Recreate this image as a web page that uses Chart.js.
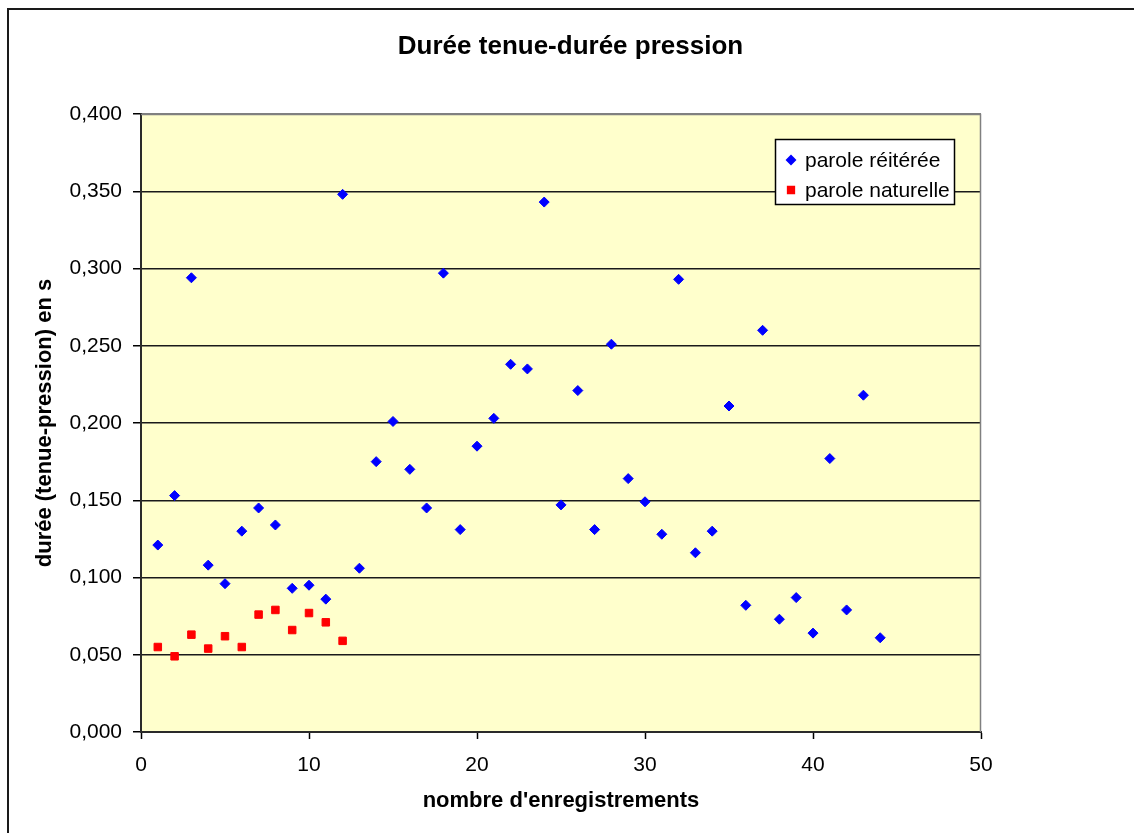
<!DOCTYPE html>
<html>
<head>
<meta charset="utf-8">
<script src="https://cdn.jsdelivr.net/npm/chart.js@4/dist/chart.umd.min.js"></script>
<style>
  html, body { margin: 0; padding: 0; background: #ffffff; }
  canvas { display: block; }
</style>
</head>
<body>
<canvas id="c" width="1134" height="833"></canvas>
<script>
const chartTitle = "Durée tenue-durée pression";
const xAxisTitle = "nombre d'enregistrements";
const yAxisTitle = "durée (tenue-pression) en s";
const seriesNames = ["parole réitérée", "parole naturelle"];

const reitereeX = [1,2,3,4,5,6,7,8,9,10,11,12,13,14,15,16,17,18,19,20,21,22,
                   23,24,25,26,27,28,29,30,31,32,33,34,35,36,37,38,39,40,41,42,43,44];
const reitereeY = [0.121,0.153,0.294,0.108,0.096,0.130,0.145,0.134,0.093,0.095,0.086,0.348,
                   0.106,0.175,0.201,0.170,0.145,0.297,0.131,0.185,0.203,0.238,0.235,0.343,
                   0.147,0.221,0.131,0.251,0.164,0.149,0.128,0.293,0.116,0.130,0.211,0.082,
                   0.260,0.073,0.087,0.064,0.177,0.079,0.218,0.061];

const naturelleX = [1,2,3,4,5,6,7,8,9,10,11,12];
const naturelleY = [0.055,0.049,0.063,0.054,0.062,0.055,0.076,0.079,0.066,0.077,0.071,0.059];

const xTickValues = [0,10,20,30,40,50];
const yTickLabels = ["0,000","0,050","0,100","0,150","0,200","0,250","0,300","0,350","0,400"];

Chart.defaults.font.family = "'Liberation Sans', Arial, sans-serif";
Chart.defaults.color = "#000000";

const toPoints = (xs, ys) => xs.map((x, i) => ({ x: x, y: ys[i] }));

const plotBg = {
  id: 'plotBg',
  beforeDraw(chart) {
    const { ctx, chartArea: a } = chart;
    ctx.save();
    ctx.fillStyle = '#FFFFCC';
    ctx.fillRect(a.left, a.top, a.right - a.left, a.bottom - a.top);
    ctx.restore();
  },
  beforeDatasetsDraw(chart) {
    const { ctx, chartArea: a } = chart;
    ctx.save();
    ctx.strokeStyle = '#808080';
    ctx.lineWidth = 1.5;
    ctx.beginPath();
    ctx.moveTo(a.left, a.top + 0.5);
    ctx.lineTo(a.right - 0.5, a.top + 0.5);
    ctx.lineTo(a.right - 0.5, a.bottom);
    ctx.stroke();
    ctx.restore();
  }
};

const boxLegend = {
  id: 'boxLegend',
  afterDatasetsDraw(chart) {
    const { ctx } = chart;
    const left = 775, top = 139, width = 180, height = 66;
    ctx.save();
    ctx.fillStyle = '#ffffff';
    ctx.fillRect(left, top, width, height);
    ctx.strokeStyle = '#000000';
    ctx.lineWidth = 1.5;
    ctx.strokeRect(left + 0.5, top + 0.5, width - 1, height - 1);
    ctx.font = "21px 'Liberation Sans', Arial, sans-serif";
    ctx.textBaseline = 'middle';
    ctx.textAlign = 'left';
    const rows = [160, 190];
    chart.data.datasets.forEach((ds, i) => {
      const y = rows[i];
      ctx.fillStyle = ds.backgroundColor;
      ctx.strokeStyle = ds.borderColor;
      Chart.helpers.drawPoint(ctx, {
        pointStyle: ds.pointStyle,
        radius: ds.pointStyle === 'rect' ? 4.8 : 4.4,
        borderWidth: 1,
        rotation: 0
      }, 791, y);
      ctx.fillStyle = '#000000';
      ctx.fillText(ds.label, 805, y + 1);
    });
    ctx.restore();
  }
};

const outerBorder = {
  id: 'outerBorder',
  afterDraw(chart) {
    const { ctx } = chart;
    ctx.save();
    ctx.strokeStyle = '#1a1a1a';
    ctx.lineWidth = 2;
    ctx.beginPath();
    ctx.moveTo(8, 833);
    ctx.lineTo(8, 9);
    ctx.lineTo(1134, 9);
    ctx.stroke();
    ctx.restore();
  }
};

new Chart(document.getElementById('c'), {
  type: 'scatter',
  data: {
    datasets: [
      {
        label: seriesNames[0],
        data: toPoints(reitereeX, reitereeY),
        pointStyle: 'rectRot',
        pointRadius: 5,
        pointHoverRadius: 5,
        borderWidth: 1,
        backgroundColor: '#0000FF',
        borderColor: '#0000FF'
      },
      {
        label: seriesNames[1],
        data: toPoints(naturelleX, naturelleY),
        pointStyle: 'rect',
        pointRadius: 5.3,
        pointHoverRadius: 5.3,
        borderWidth: 1,
        backgroundColor: '#FF0000',
        borderColor: '#FF0000'
      }
    ]
  },
  options: {
    responsive: false,
    animation: false,
    events: [],
    layout: { padding: { left: 7, right: 0, top: 0, bottom: 0 } },
    plugins: {
      legend: { display: false },
      tooltip: { enabled: false },
      title: {
        display: true,
        text: chartTitle,
        color: '#000000',
        font: { size: 26, weight: 'bold' },
        padding: { top: 31.4, bottom: 51.4 }
      }
    },
    scales: {
      x: {
        type: 'linear',
        position: 'bottom',
        min: 0,
        max: 50,
        afterFit(s) { s.height = 101; },
        afterBuildTicks(s) { s.ticks = xTickValues.map(v => ({ value: v })); },
        ticks: {
          font: { size: 21 },
          color: '#000000',
          padding: 14,
          maxRotation: 0,
          callback: v => String(v)
        },
        grid: {
          display: true,
          drawOnChartArea: false,
          drawTicks: true,
          tickLength: 7,
          tickColor: '#000000',
          tickWidth: 1.5
        },
        border: { display: true, color: '#2a2a2a', width: 2 },
        title: {
          display: true,
          text: xAxisTitle,
          color: '#000000',
          font: { size: 22, weight: 'bold' },
          padding: { top: 0, bottom: 18.8 }
        }
      },
      y: {
        type: 'linear',
        position: 'left',
        min: 0,
        max: 0.4,
        afterFit(s) { s.width = 134; },
        afterBuildTicks(s) { s.ticks = yTickLabels.map(t => ({ value: parseFloat(t.replace(',', '.')) })); },
        ticks: {
          font: { size: 21 },
          color: '#000000',
          padding: 11,
          callback: (v, i) => yTickLabels[i]
        },
        grid: {
          display: true,
          drawOnChartArea: true,
          drawTicks: true,
          tickLength: 8,
          tickColor: '#000000',
          tickWidth: 1.5,
          lineWidth: 1.5,
          color: ctx => (ctx.tick && ctx.tick.value > 0.399) ? '#808080' : '#1a1a1a'
        },
        border: { display: true, color: '#2a2a2a', width: 2 },
        title: {
          display: true,
          text: yAxisTitle,
          color: '#000000',
          font: { size: 22, weight: 'bold' },
          padding: { top: 24.8, bottom: 0 }
        }
      },
      spacer: {
        type: 'linear',
        position: 'right',
        display: true,
        afterFit(s) { s.width = 153; },
        ticks: { display: false },
        grid: { display: false, drawTicks: false },
        border: { display: false },
        title: { display: false }
      }
    }
  },
  plugins: [plotBg, boxLegend, outerBorder]
});
</script>
</body>
</html>
